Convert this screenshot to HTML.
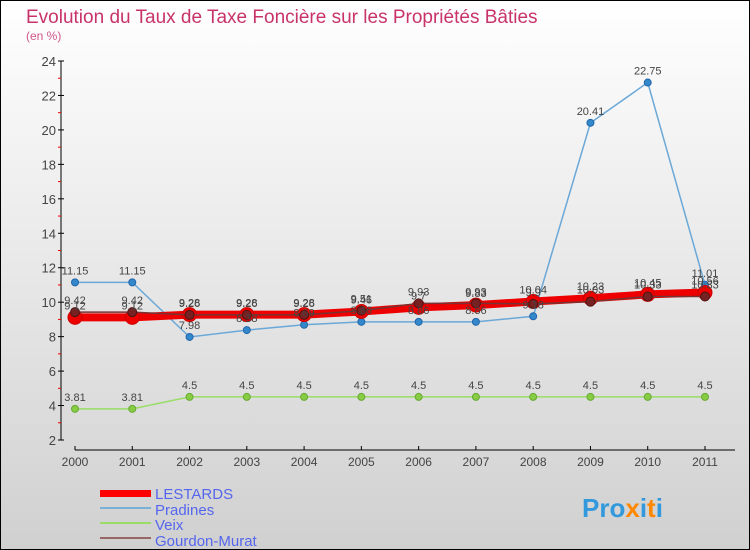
<!DOCTYPE html>
<html><head><meta charset="utf-8"><style>
body{margin:0}
#wrap{width:750px;height:550px;position:relative;overflow:hidden}
svg text{font-family:"Liberation Sans",sans-serif}
</style></head><body>
<div id="wrap">
<svg id="chart" width="750" height="550">
<defs><linearGradient id="bg" x1="0" y1="0" x2="0" y2="1"><stop offset="0" stop-color="#ffffff"/><stop offset="1" stop-color="#d0d0d0"/></linearGradient></defs>
<rect x="0.5" y="0.5" width="749" height="549" fill="url(#bg)" stroke="#000"/>
<text x="26" y="23" font-size="19" fill="#c8336a">Evolution du Taux de Taxe Foncière sur les Propriétés Bâties</text>
<text x="26" y="40" font-size="12" fill="#d0558a">(en %)</text>
<g id="axes"></g><g id="series"></g><g id="labels"></g>
<g>
<rect x="100" y="490" width="51" height="7" fill="#f00"/>
<text x="155" y="499" font-size="15" fill="#5566ee">LESTARDS</text>
<rect x="100" y="507" width="51" height="2" fill="#7ab0d8"/>
<text x="155" y="515" font-size="15" fill="#5566ee">Pradines</text>
<rect x="100" y="522" width="51" height="2" fill="#99dd66"/>
<text x="155" y="530" font-size="15" fill="#5566ee">Veix</text>
<rect x="100" y="537" width="51" height="2" fill="#996666"/>
<text x="155" y="546" font-size="15" fill="#5566ee">Gourdon-Murat</text>
</g>
<text x="582" y="517" font-size="26" font-weight="bold" fill="#3399dd">Pro<tspan fill="#ff8800">x</tspan><tspan fill="#3399dd">i</tspan><tspan fill="#ff8800">t</tspan>i</text>
</svg></div>
<script>
const years=["2000","2001","2002","2003","2004","2005","2006","2007","2008","2009","2010","2011"];
const yTicks=[2,4,6,8,10,12,14,16,18,20,22,24];
const lestards=[9.12,9.12,9.28,9.28,9.28,9.46,9.7,9.83,10.04,10.23,10.45,10.56];
const pradines=[11.15,11.15,7.98,8.38,8.69,8.86,8.86,8.86,9.18,20.41,22.75,11.01];
const veix=[3.81,3.81,4.5,4.5,4.5,4.5,4.5,4.5,4.5,4.5,4.5,4.5];
const gourdon=[9.42,9.42,9.26,9.26,9.26,9.51,9.93,9.93,9.9,10.03,10.33,10.33];
const NS="http://www.w3.org/2000/svg";
const X=i=>75+i*(630/11);
const Y=v=>440-(v-2)*(379/22);
function mk(t,a,p){const e=document.createElementNS(NS,t);for(const k in a)e.setAttribute(k,a[k]);p.appendChild(e);return e;}
const ax=document.getElementById('axes'),se=document.getElementById('series'),lb=document.getElementById('labels');
let l=mk('line',{x1:61,y1:Y(24),x2:61,y2:Y(2),stroke:'#000'},ax);

yTicks.forEach(v=>{mk('line',{x1:58,x2:64,y1:Y(v),y2:Y(v),stroke:'#000'},ax);
 if(v<24)mk('line',{x1:58,x2:61,y1:Y(v+1),y2:Y(v+1),stroke:'#e00'},ax);
 const t=mk('text',{x:56,y:Y(v)+5,'font-size':13,fill:'#444','text-anchor':'end'},ax);t.textContent=v;
 });
l=mk('line',{x1:75,y1:450,x2:735,y2:450,stroke:'#000'},ax);

years.forEach((y,i)=>{mk('line',{x1:X(i),x2:X(i),y1:446,y2:450,stroke:'#000'},ax);
 const t=mk('text',{x:X(i),y:466,'font-size':12,fill:'#444','text-anchor':'middle'},ax);t.textContent=y;
 });
function series(d,name,col,w,r,dot,dotStroke){
 const p=mk('polyline',{points:d.map((v,i)=>X(i)+','+Y(v)).join(' '),fill:'none',stroke:col,'stroke-width':w},se);
 
 d.forEach((v,i)=>{const c=mk('circle',{cx:X(i),cy:Y(v),r:r,fill:dot,stroke:dotStroke,'stroke-width':1},se);
  
  const t=mk('text',{x:X(i),y:Y(v)-8,'font-size':11,fill:'#444','text-anchor':'middle'},lb);t.textContent=v;
  });
}
series(veix,'veix','#99dd66',1.5,3.5,'#88cc44','#66aa33');
series(pradines,'pradines','#6aa8d8',1.5,3.5,'#3388cc','#2266aa');
series(lestards,'lestards','#ee0000',8,7,'#ee0000','#cc0000');
series(gourdon,'gourdon-murat','#773333',1.5,4.5,'#772222','#551111');
</script>
</body></html>
